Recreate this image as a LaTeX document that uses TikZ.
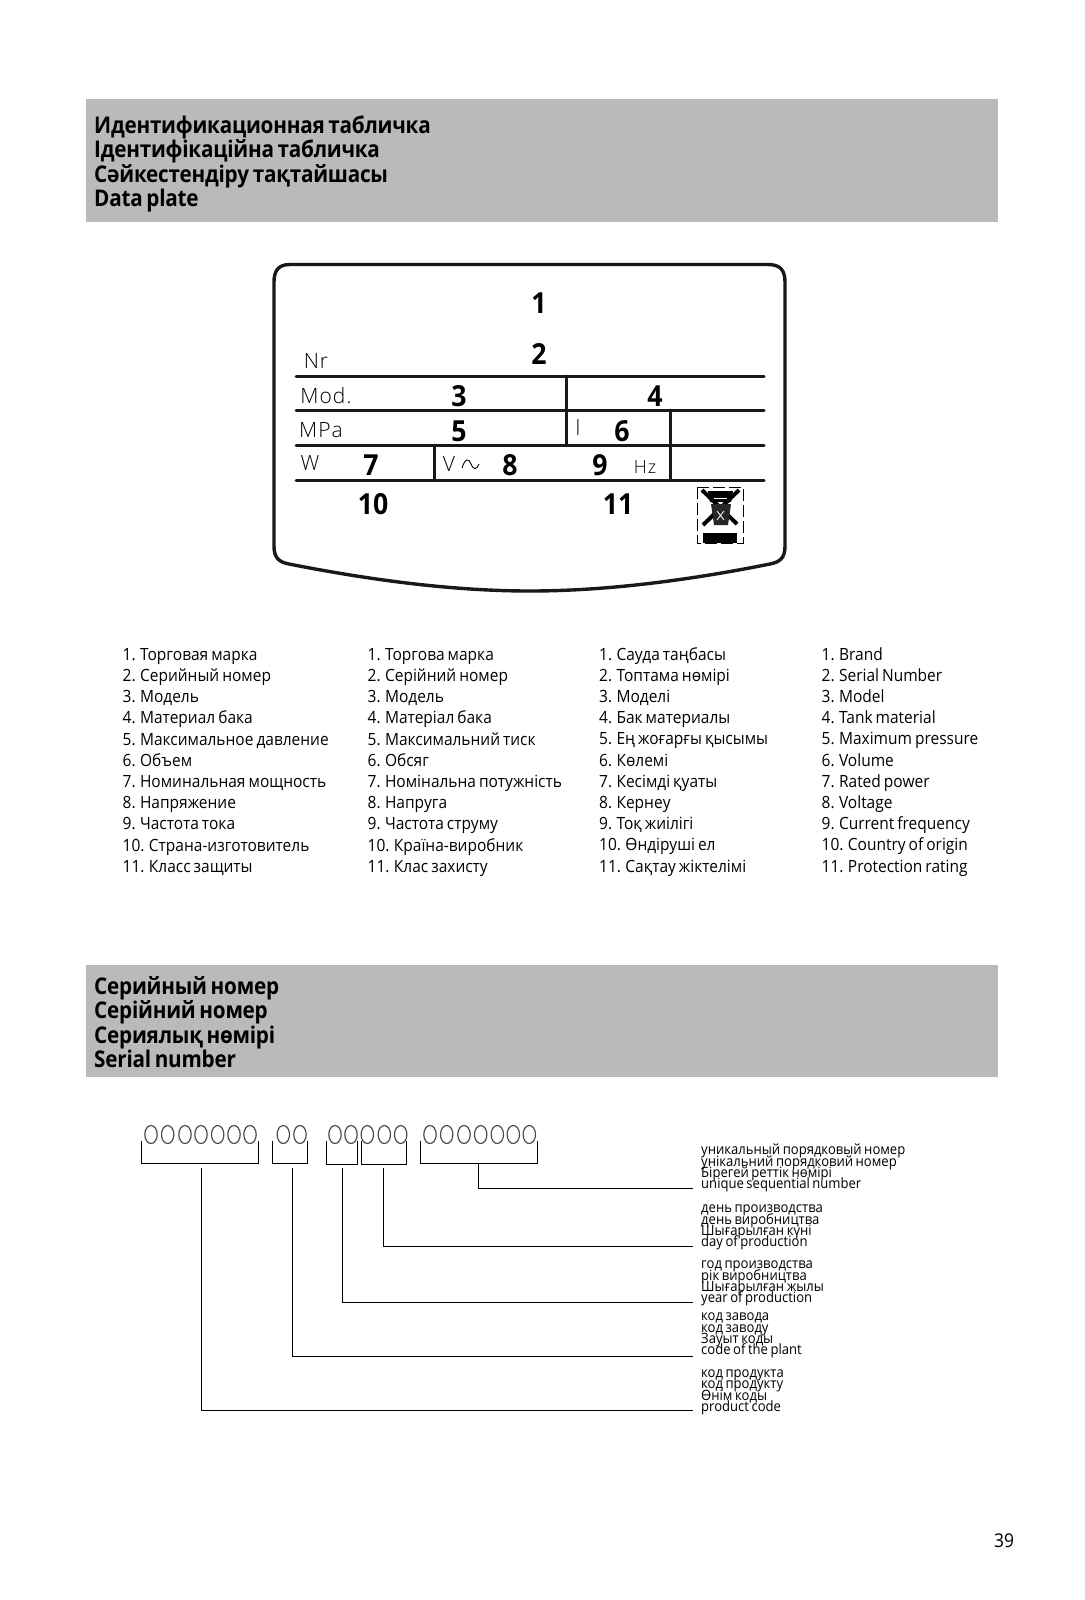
\documentclass[tikz,border=0pt]{standalone}
\usepackage{fontspec}
\setmainfont[FakeStretch=0.92,WordSpace=0.75]{Open Sans}
\newfontfamily\headfont[FakeStretch=0.9,WordSpace=0.7,LetterSpace=-1]{Open Sans}
\newfontfamily\platefont[LetterSpace=5]{Open Sans Light}
\definecolor{headgray}{HTML}{BABABA}
\newcommand{\tightlines}{\lineskiplimit=-20pt\relax}
\tikzset{
    headtext/.style={anchor=north west, inner sep=0pt, align=left, font=\fontsize{23}{24.5}\selectfont\headfont\bfseries},
    listtext/.style={anchor=north west, inner sep=0pt, align=left, font=\fontsize{16.85}{21.2}\selectfont},
    stacktext/.style={anchor=south west, inner sep=0pt, align=left, font=\fontsize{14.2}{11.4}\selectfont\tightlines},
    platenum/.style={inner sep=0pt, font=\fontsize{29}{29}\selectfont\bfseries},
    platelabel/.style={inner sep=0pt, font=\fontsize{21}{21}\selectfont\platefont},
    plateline/.style={line width=3pt, line cap=round, color=black!90},
    leader/.style={line width=0.9pt},
    digit/.style={line width=1.2pt, color=black!70}
}
\begin{document}
\begin{tikzpicture}[x=1pt, y=-1pt]
    \useasboundingbox (0,0) rectangle (1084,1600);
    % header bars
    \fill[headgray] (86,99) rectangle (998,221.5);
    \fill[headgray] (86,965) rectangle (998,1077);
    \node[headtext] (platehead) at (94,115.5) {Идентификационная табличка\\Ідентифікаційна табличка\\Сәйкестендіру тақтайшасы\\Data plate};
    \node[headtext] (serialhead) at (94,976) {Серийный номер\\Серійний номер\\Сериялық нөмірі\\Serial number};
    % plate outline
    \draw[line width=3.4pt, color=black!90] (290,264.5) -- (768,264.5) .. controls (780,264.5) and (785,270) .. (785,282)
        -- (785,546) .. controls (785,558) and (780,562) .. (770,564) .. controls (680,582) and (600,591) .. (530,591)
        .. controls (460,591) and (380,582) .. (289,564) .. controls (279,562) and (274,558) .. (274,546)
        -- (274,282) .. controls (274,270) and (279,264.5) .. (290,264.5) -- cycle;
    \foreach \yline in {376,410,445,480}
        \draw[plateline] (296,\yline) -- (764,\yline);
    \draw[plateline] (566,376) -- (566,445);
    \draw[plateline] (670,410) -- (670,480);
    \draw[plateline] (434,445) -- (434,480);
    % plate numbers
    \node[platenum] (num1) at (539,303) {1};
    \node[platenum] (num2) at (539,354) {2};
    \node[platenum] (num3) at (459,396) {3};
    \node[platenum] (num4) at (655,396) {4};
    \node[platenum] (num5) at (459,431) {5};
    \node[platenum] (num6) at (622,431) {6};
    \node[platenum] (num7) at (371,465) {7};
    \node[platenum] (num8) at (510,465) {8};
    \node[platenum] (num9) at (600,465) {9};
    \node[platenum] (num10) at (373,504) {10};
    \node[platenum] (num11) at (618,504) {11};
    \node[platelabel] (nr) at (316,361) {Nr};
    \node[platelabel] (mod) at (326,396) {Mod.};
    \node[platelabel] (mpa) at (321,430) {MPa};
    \node[platelabel] (litre) at (578,428) {l};
    \node[platelabel] (watt) at (310,463) {W};
    \node[platelabel] (volt) at (449,464) {V};
    \node[platelabel, font=\fontsize{18}{18}\selectfont\platefont] (hertz) at (645,467) {Hz};
    \draw[line width=0.9pt] (462,468) .. controls (465,458) and (469,458) .. (471,464) .. controls (473,470) and (477,470) .. (479,464);
    % bin symbol
    \draw[line width=1pt, dash pattern=on 12pt off 4pt] (697,487) rectangle (743,543);
    \fill (703,533) rectangle (737,543);
    \draw[line width=4pt] (702,490) -- (737,524);
    \draw[line width=4pt] (739,490) -- (703,525);
    \fill (708,491) -- (733,491) -- (731,502) -- (710,502) -- cycle;
    \fill[black!85] (711,504) -- (731,504) -- (728,525) -- (714,525) -- cycle;
    \draw[white, line width=0.8pt] (714,498) -- (727,498);
    \draw[white, line width=0.8pt] (717,511) -- (724,520) (724,511) -- (717,520);
    % lists
    \node[listtext] (listru) at (122.5,648) {1. Торговая марка\\2. Серийный номер\\3. Модель\\4. Материал бака\\5. Максимальное давление\\6. Объем\\7. Номинальная мощность\\8. Напряжение\\9. Частота тока\\10. Страна-изготовитель\\11. Класс защиты};
    \node[listtext] (listuk) at (367.5,648) {1. Торгова марка\\2. Серійний номер\\3. Модель\\4. Матеріал бака\\5. Максимальний тиск\\6. Обсяг\\7. Номінальна потужність\\8. Напруга\\9. Частота струму\\10. Країна-виробник\\11. Клас захисту};
    \node[listtext] (listkk) at (599,647) {1. Сауда таңбасы\\2. Топтама нөмірі\\3. Моделі\\4. Бак материалы\\5. Ең жоғарғы қысымы\\6. Көлемі\\7. Кесімді қуаты\\8. Кернеу\\9. Тоқ жиілігі\\10. Өндіруші ел\\11. Сақтау жіктелімі};
    \node[listtext] (listen) at (821.5,647) {1. Brand\\2. Serial Number\\3. Model\\4. Tank material\\5. Maximum pressure\\6. Volume\\7. Rated power\\8. Voltage\\9. Current frequency\\10. Country of origin\\11. Protection rating};
    % digit groups
    \foreach \xd in {151,167.7,185,201,217.7,234,250,283.3,300,335,351,367.3,384.3,400.7,430,446.7,464,480.7,497.3,513.3,529.3}
        \draw[digit] (\xd,1134.5) ellipse (6.2pt and 9pt);
    \draw[leader] (141.7,1140.7) |- (258,1163.3) -- (258,1140.7);
    \draw[leader] (272.7,1140.7) |- (307.3,1163.3) -- (307.3,1140.7);
    \draw[leader] (326.3,1140.7) |- (357.7,1164.3) -- (357.7,1140.7);
    \draw[leader] (361.3,1140.7) |- (406.3,1164.3) -- (406.3,1140.7);
    \draw[leader] (420.3,1140.7) |- (537.3,1163.3) -- (537.3,1140.7);
    % labels and their leaders
    \node[stacktext] (sequence) at (701,1192.5) {уникальный порядковый номер\\унікальний порядковий номер\\Бірегей реттік нөмірі\\unique sequential number};
    \node[stacktext] (day) at (701,1250.5) {день производства\\день виробництва\\Шығарылған күні\\day of production};
    \node[stacktext] (year) at (701,1306.5) {год производства\\рік виробництва\\Шығарылған жылы\\year of production};
    \node[stacktext] (plant) at (701,1358.5) {код завода\\код заводу\\Зауыт коды\\code of the plant};
    \node[stacktext] (product) at (701,1415) {код продукта\\код продукту\\Өнім коды\\product code};
    \coordinate (seqtop) at (478.3,1163.3);
    \coordinate (daytop) at (383.3,1168.3);
    \coordinate (yeartop) at (342.3,1168.3);
    \coordinate (planttop) at (292.3,1168.3);
    \coordinate (prodtop) at (201,1168.3);
    \coordinate (seqend) at (693,1188.5);
    \coordinate (dayend) at (693,1246.5);
    \coordinate (yearend) at (693,1302.5);
    \coordinate (plantend) at (693,1356.5);
    \coordinate (prodend) at (693,1410.5);
    \draw[leader] (seqtop) |- (seqend);
    \draw[leader] (daytop) |- (dayend);
    \draw[leader] (yeartop) |- (yearend);
    \draw[leader] (planttop) |- (plantend);
    \draw[leader] (prodtop) |- (prodend);
    \node[inner sep=0pt, font=\fontsize{19}{19}\selectfont] (pagenum) at (1004,1541) {39};
\end{tikzpicture}
\end{document}
